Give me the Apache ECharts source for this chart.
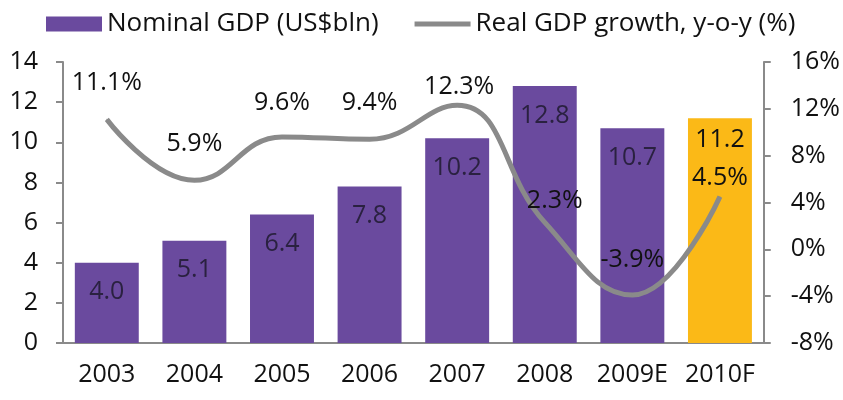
<!DOCTYPE html>
<html>
<head>
<meta charset="utf-8">
<script src="https://cdn.jsdelivr.net/npm/echarts@6/dist/echarts.min.js"></script>
<style>
  html, body { margin: 0; padding: 0; background: #fff; }
  #chart { width: 843px; height: 400px; }
</style>
</head>
<body>
<div id="chart"></div>
<script>
// Nominal GDP and real growth, 2003 to 2010 forecast
const years = ['2003', '2004', '2005', '2006', '2007', '2008', '2009E', '2010F'];
const nominalGdp = [4.0, 5.1, 6.4, 7.8, 10.2, 12.8, 10.7, 11.2];
const realGrowth = [11.1, 5.9, 9.6, 9.4, 12.3, 2.3, -3.9, 4.5];
const leftTicks = { min: 0, max: 14, interval: 2 };
const rightTicks = { min: -8, max: 16, interval: 4 };

// label nudges for the growth line, [dx, dy] in pixels
const growthLabelOffsets = [[0, -36], [0, -36], [0, -34], [0, -36], [2, -18], [10, -22], [0, -35], [0, -19]];

const FONT = '"Open Sans", "Liberation Sans", sans-serif';
const PURPLE = '#6a4a9e';
const ORANGE = '#fbb917';
const GREY = '#8a8a8a';
const forecastIndex = years.length - 1;

const chart = echarts.init(document.getElementById('chart'), null, { renderer: 'canvas' });

const barData = nominalGdp.map((v, i) => {
  const item = { value: v };
  if (i === forecastIndex) {
    item.itemStyle = { color: ORANGE };
    item.label = { color: '#111', distance: 9 };
  }
  return item;
});

const lineData = realGrowth.map((v, i) => ({
  value: v,
  label: { offset: growthLabelOffsets[i] }
}));

chart.setOption({
  animation: false,
  textStyle: { fontFamily: FONT },
  legend: {
    left: 41,
    top: 6,
    itemGap: 36,
    itemWidth: 56,
    itemHeight: 15,
    textStyle: { fontFamily: FONT, fontSize: 26, color: '#111' },
    data: [
      { name: 'Nominal GDP (US$bln)', icon: 'rect' },
      { name: 'Real GDP growth, y-o-y (%)', icon: 'path://M0,0H56V5H0Z' }
    ]
  },
  grid: { left: 63, right: 74, top: 62, bottom: 57 },
  xAxis: {
    type: 'category',
    data: years,
    axisLine: { lineStyle: { color: GREY, width: 2 } },
    axisTick: { length: 8, lineStyle: { color: GREY, width: 2 } },
    axisLabel: { color: '#111', fontSize: 25, fontFamily: FONT, margin: 19, interval: 0 }
  },
  yAxis: [
    {
      type: 'value',
      min: leftTicks.min, max: leftTicks.max, interval: leftTicks.interval,
      splitLine: { show: false },
      axisLine: { show: true, lineStyle: { color: GREY, width: 2 } },
      axisTick: { show: true, length: 7, lineStyle: { color: GREY, width: 2 } },
      axisLabel: { color: '#111', fontSize: 25, fontFamily: FONT, margin: 25 }
    },
    {
      type: 'value',
      position: 'right',
      min: rightTicks.min, max: rightTicks.max, interval: rightTicks.interval,
      splitLine: { show: false },
      axisLine: { show: true, lineStyle: { color: GREY, width: 2 } },
      axisTick: { show: true, length: 7, lineStyle: { color: GREY, width: 2 } },
      axisLabel: { color: '#111', fontSize: 25, fontFamily: FONT, margin: 27, formatter: '{value}%' }
    }
  ],
  series: [
    {
      name: 'Nominal GDP (US$bln)',
      type: 'bar',
      yAxisIndex: 0,
      data: barData,
      barCategoryGap: '27%',
      itemStyle: { color: PURPLE },
      label: {
        show: true,
        position: 'insideTop',
        distance: 17,
        color: '#2a2140',
        fontSize: 25,
        fontFamily: FONT,
        formatter: p => p.value.toFixed(1)
      },
      z: 2
    },
    {
      name: 'Real GDP growth, y-o-y (%)',
      type: 'line',
      yAxisIndex: 1,
      data: lineData,
      smooth: 0.45,
      symbol: 'circle',
      symbolSize: 1,
      showSymbol: true,
      lineStyle: { color: GREY, width: 5 },
      itemStyle: { color: GREY },
      label: {
        show: true,
        position: 'inside',
        color: '#111',
        fontSize: 25,
        fontFamily: FONT,
        formatter: p => p.value.toFixed(1) + '%'
      },
      z: 3
    }
  ]
});
</script>
</body>
</html>
